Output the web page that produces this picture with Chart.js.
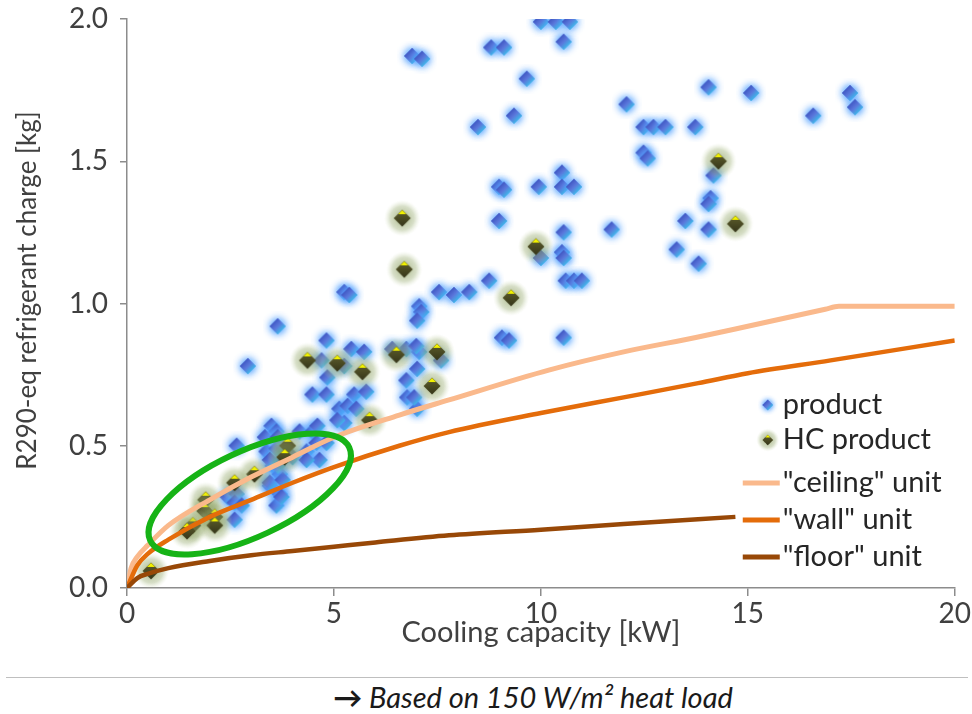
<!DOCTYPE html>
<html>
<head>
<meta charset="utf-8">
<script src="https://cdn.jsdelivr.net/npm/chart.js@4.4.1/dist/chart.umd.min.js"></script>
<style>
  body { margin: 0; background: #fff; font-family: Lato, sans-serif; }
  #wrap { position: relative; width: 972px; height: 672px; }
  #rule { position: absolute; left: 6px; top: 677px; width: 962px; border-top: 1px solid #bfbfbf; }
  #note { position: absolute; left: 94px; top: 679px; width: 878px; text-align: center;
          font-style: italic; font-size: 29px; color: #1a1a1a; }
  #note b { font-style: normal; }
</style>
</head>
<body>
<div id="wrap"><canvas id="chargeChart"></canvas></div>
<div id="rule"></div>
<div id="note"><b>→</b> Based on 150 W/m² heat load</div>
<script>
// products (kW, kg)
const productX = [6.89, 7.13, 10.0, 10.36, 10.70, 10.55, 8.80, 9.11, 9.66, 9.35, 8.48, 12.07, 12.48, 12.72, 13.01,
  13.73, 12.48, 12.58, 14.05, 15.08, 16.58, 17.47, 17.59, 8.99, 9.11, 9.95, 10.51, 10.51, 10.80, 8.99,
  11.71, 13.49, 13.28, 13.81, 10.55, 10.0, 10.51, 10.55, 10.60, 10.80, 10.99, 8.75, 7.54, 7.90, 8.27,
  7.06, 7.11, 7.01, 9.06, 9.23, 10.55, 6.75, 7.06, 7.59, 7.01, 6.75, 6.77, 7.01, 14.10, 14.17,
  14.05, 14.05, 5.25, 5.37, 3.64, 4.82, 4.70, 5.42, 5.73, 5.25, 4.84, 4.48, 4.82, 5.49, 5.78,
  5.13, 5.33, 5.54, 5.25, 5.08, 6.41, 6.99, 6.94, 2.92, 3.49, 3.61, 4.17, 4.48, 4.60, 2.65,
  3.37, 3.61, 4.34, 4.58, 4.82, 4.65, 4.00, 4.34, 3.52, 3.69, 3.45, 3.69, 3.45, 3.76, 3.61,
  3.73, 2.43, 2.65, 2.60, 2.77, 2.60, 3.64, 3.45, 3.33, 3.64];
const productY = [1.87, 1.86, 1.99, 1.99, 1.99, 1.92, 1.90, 1.90, 1.79, 1.66, 1.62, 1.70, 1.62, 1.62, 1.62,
  1.62, 1.53, 1.51, 1.76, 1.74, 1.66, 1.74, 1.69, 1.41, 1.40, 1.41, 1.46, 1.41, 1.41, 1.29,
  1.26, 1.29, 1.19, 1.14, 1.25, 1.16, 1.18, 1.16, 1.08, 1.08, 1.08, 1.08, 1.04, 1.03, 1.04,
  0.99, 0.97, 0.94, 0.88, 0.87, 0.88, 0.84, 0.83, 0.80, 0.77, 0.73, 0.67, 0.63, 1.37, 1.45,
  1.26, 1.35, 1.04, 1.03, 0.92, 0.87, 0.80, 0.84, 0.83, 0.78, 0.74, 0.68, 0.68, 0.68, 0.69,
  0.63, 0.64, 0.63, 0.58, 0.59, 0.84, 0.85, 0.67, 0.78, 0.57, 0.55, 0.55, 0.55, 0.57, 0.50,
  0.48, 0.49, 0.48, 0.51, 0.51, 0.45, 0.46, 0.45, 0.43, 0.40, 0.36, 0.33, 0.37, 0.38, 0.29,
  0.32, 0.32, 0.33, 0.30, 0.29, 0.24, 0.43, 0.45, 0.53, 0.53];

// hydrocarbon products
const hcX = [6.65, 6.70, 9.88, 9.28, 14.29, 14.70, 7.49, 7.37, 6.51, 4.36, 5.08, 5.69, 5.86, 3.88,
  3.81, 3.08, 2.60, 1.90, 1.88, 2.12, 2.12, 1.59, 1.45, 0.58];
const hcY = [1.30, 1.12, 1.20, 1.02, 1.50, 1.28, 0.83, 0.71, 0.82, 0.80, 0.79, 0.76, 0.59, 0.50,
  0.46, 0.40, 0.37, 0.31, 0.27, 0.25, 0.22, 0.22, 0.20, 0.06];

// limit curves
const ceilingX = [0, 0.1, 0.25, 0.5, 1, 2, 3, 4, 5, 6.58, 7.78, 10.19, 12, 13.8, 15, 16.87, 17.2, 20];
const ceilingY = [0, 0.07, 0.11, 0.15, 0.22, 0.31, 0.39, 0.46, 0.53, 0.608, 0.661, 0.766, 0.83, 0.882, 0.92, 0.98, 0.99, 0.99];
const wallX = [0, 0.25, 0.5, 1, 2, 3, 4, 5, 6.58, 7.78, 10, 12, 13.8, 15, 17, 20];
const wallY = [0, 0.08, 0.12, 0.17, 0.25, 0.31, 0.37, 0.425, 0.50, 0.548, 0.615, 0.67, 0.72, 0.755, 0.80, 0.87];
const floorX = [0, 0.25, 0.5, 1, 2, 3, 4, 5, 6, 7.78, 10, 12, 14.7];
const floorY = [0, 0.035, 0.05, 0.07, 0.095, 0.115, 0.13, 0.145, 0.16, 0.185, 0.205, 0.225, 0.25];

const xTicks = [0, 5, 10, 15, 20];
const yTicks = [0.0, 0.5, 1.0, 1.5, 2.0];

// highlighted cluster: ends of the long axis (kW, kg) and half width (kg)
const ringEnds = [[0.56, 0.167], [5.37, 0.494]];
const ringHalfWidth = 0.15;

const pts = (xs, ys) => xs.map((x, i) => ({ x: x, y: ys[i] }));

function diamondPath(g, cx, cy, r) {
  g.beginPath();
  g.moveTo(cx, cy - r); g.lineTo(cx + r, cy); g.lineTo(cx, cy + r); g.lineTo(cx - r, cy);
  g.closePath();
}

function productMarker() {
  const c = document.createElement('canvas');
  c.width = 30; c.height = 30;
  const g = c.getContext('2d');
  g.shadowColor = 'rgba(80,160,255,1)';
  g.shadowBlur = 8;
  const grad = g.createLinearGradient(9, 9, 21, 21);
  grad.addColorStop(0, '#3449b8');
  grad.addColorStop(0.5, '#5b78dc');
  grad.addColorStop(1, '#33d0ee');
  g.fillStyle = grad;
  diamondPath(g, 15, 15, 8);
  g.fill(); g.fill();
  return c;
}

function hcMarker() {
  const c = document.createElement('canvas');
  c.width = 38; c.height = 38;
  const g = c.getContext('2d');
  const halo = g.createRadialGradient(19, 19, 3, 19, 19, 18);
  halo.addColorStop(0, 'rgba(130,150,80,0.6)');
  halo.addColorStop(0.6, 'rgba(150,170,110,0.38)');
  halo.addColorStop(1, 'rgba(200,215,170,0)');
  g.fillStyle = halo;
  g.fillRect(0, 0, 38, 38);
  const body = g.createLinearGradient(0, 11, 0, 27);
  body.addColorStop(0, '#5e5e2c');
  body.addColorStop(1, '#36361a');
  g.fillStyle = body;
  diamondPath(g, 19, 19, 8.5);
  g.fill();
  g.fillStyle = '#f2f200';
  g.beginPath();
  g.moveTo(19, 11); g.lineTo(23, 15); g.lineTo(15, 15); g.closePath();
  g.fill();
  return c;
}

const blueDot = productMarker();
const hcDot = hcMarker();

const ringPlugin = {
  id: 'ring',
  afterDatasetsDraw(chart) {
    const { ctx, scales: { x, y } } = chart;
    const ax = x.getPixelForValue(ringEnds[0][0]), ay = y.getPixelForValue(ringEnds[0][1]);
    const bx = x.getPixelForValue(ringEnds[1][0]), by = y.getPixelForValue(ringEnds[1][1]);
    const half = Math.abs(y.getPixelForValue(0) - y.getPixelForValue(ringHalfWidth));
    ctx.save();
    ctx.strokeStyle = '#16b316';
    ctx.lineWidth = 6;
    ctx.beginPath();
    ctx.ellipse((ax + bx) / 2, (ay + by) / 2, Math.hypot(bx - ax, by - ay) / 2, half,
      Math.atan2(by - ay, bx - ax), 0, Math.PI * 2);
    ctx.stroke();
    ctx.restore();
  }
};

const legendPlugin = {
  id: 'sideLegend',
  afterDraw(chart) {
    const { ctx, chartArea } = chart;
    const left = chartArea.right - 212;
    const textX = left + 40;
    const rows = [
      { label: 'product', dot: blueDot, size: 20 },
      { label: 'HC product', dot: hcDot, size: 24 },
      { label: '"ceiling" unit', line: '#fab98c' },
      { label: '"wall" unit', line: '#e46c0a' },
      { label: '"floor" unit', line: '#984807' }
    ];
    const rowY = [-183, -148, -105, -68, -31];
    ctx.save();
    ctx.font = '29px Lato';
    ctx.textBaseline = 'middle';
    ctx.fillStyle = '#262626';
    rows.forEach((r, i) => {
      const cy = chartArea.bottom + rowY[i];
      if (r.dot) {
        ctx.drawImage(r.dot, left + 25 - r.size / 2, cy - r.size / 2, r.size, r.size);
      } else {
        ctx.strokeStyle = r.line;
        ctx.lineWidth = 5;
        ctx.beginPath();
        ctx.moveTo(left, cy); ctx.lineTo(left + 37, cy);
        ctx.stroke();
      }
      ctx.fillText(r.label, textX, cy);
    });
    ctx.restore();
  }
};

const tickFont = { family: 'Lato', size: 28 };

new Chart(document.getElementById('chargeChart').getContext('2d'), {
  type: 'scatter',
  data: {
    datasets: [
      { label: 'product', data: pts(productX, productY), pointStyle: blueDot, order: 5 },
      { label: 'HC product', data: pts(hcX, hcY), pointStyle: hcDot, order: 4 },
      { label: '"ceiling" unit', type: 'line', data: pts(ceilingX, ceilingY), borderColor: '#fab98c',
        borderWidth: 5, pointRadius: 0, cubicInterpolationMode: 'monotone', order: 3 },
      { label: '"wall" unit', type: 'line', data: pts(wallX, wallY), borderColor: '#e46c0a',
        borderWidth: 4.5, pointRadius: 0, cubicInterpolationMode: 'monotone', order: 2 },
      { label: '"floor" unit', type: 'line', data: pts(floorX, floorY), borderColor: '#984807',
        borderWidth: 4.5, pointRadius: 0, cubicInterpolationMode: 'monotone', order: 1 }
    ]
  },
  options: {
    responsive: true,
    maintainAspectRatio: false,
    animation: false,
    layout: { padding: { top: 19, right: 15, left: 0, bottom: 0 } },
    plugins: { legend: { display: false }, tooltip: { enabled: false } },
    scales: {
      x: {
        type: 'linear', min: 0, max: 20,
        afterBuildTicks: s => { s.ticks = xTicks.map(v => ({ value: v })); },
        ticks: { color: '#404040', font: tickFont, padding: 1 },
        grid: { drawOnChartArea: false, tickLength: 8, color: '#8c8c8c', lineWidth: 1.5 },
        border: { color: '#8c8c8c', width: 1.5 },
        title: { display: true, text: 'Cooling capacity [kW]', color: '#404040',
                 font: { family: 'Lato', size: 29 }, padding: { top: 0, bottom: 22 } },
        afterFit: s => { s.height = 84; }
      },
      y: {
        min: 0, max: 2,
        afterBuildTicks: s => { s.ticks = yTicks.map(v => ({ value: v })); },
        ticks: { color: '#404040', font: tickFont, padding: 12, callback: v => v.toFixed(1) },
        grid: { drawOnChartArea: false, tickLength: 7, color: '#8c8c8c', lineWidth: 1.5 },
        border: { color: '#8c8c8c', width: 1.5 },
        title: { display: true, text: '\u2002\u2002R290-eq refrigerant charge [kg]', color: '#404040',
                 font: { family: 'Lato', size: 26 }, padding: { top: 12, bottom: 0 } },
        afterFit: s => { s.width = 127; s.paddingTop = 0; s.paddingBottom = 0; }
      }
    }
  },
  plugins: [ringPlugin, legendPlugin]
});
</script>
</body>
</html>
